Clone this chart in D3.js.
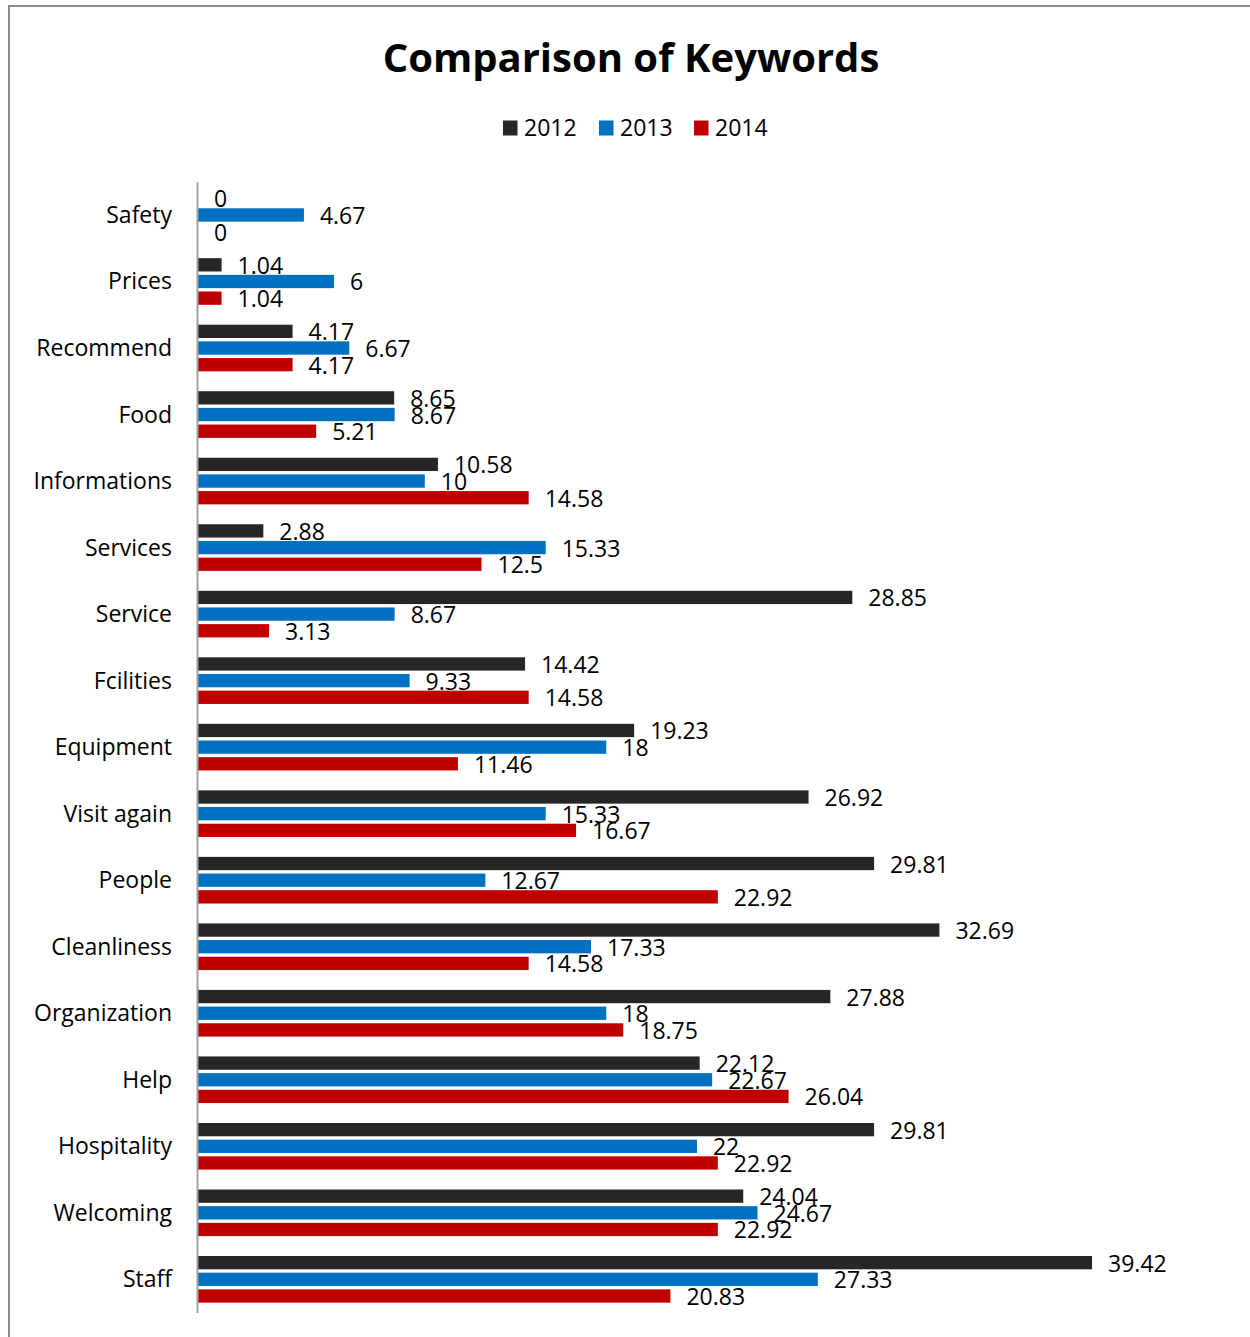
<!DOCTYPE html>
<html>
<head>
<meta charset="utf-8">
<script src="https://cdn.jsdelivr.net/npm/d3@7"></script>
<style>
  html, body { margin: 0; padding: 0; background: #fff; }
  svg { display: block; font-family: "Open Sans", sans-serif; }
</style>
</head>
<body>
<svg id="chart" width="1250" height="1337"></svg>
<script>
// Keyword share by year (%)
const categories = ["Safety", "Prices", "Recommend", "Food", "Informations", "Services",
  "Service", "Fcilities", "Equipment", "Visit again", "People", "Cleanliness",
  "Organization", "Help", "Hospitality", "Welcoming", "Staff"];
const years = ["2012", "2013", "2014"];
const values2012 = [0, 1.04, 4.17, 8.65, 10.58, 2.88, 28.85, 14.42, 19.23, 26.92, 29.81, 32.69, 27.88, 22.12, 29.81, 24.04, 39.42];
const values2013 = [4.67, 6, 6.67, 8.67, 10, 15.33, 8.67, 9.33, 18, 15.33, 12.67, 17.33, 18, 22.67, 22, 24.67, 27.33];
const values2014 = [0, 1.04, 4.17, 5.21, 14.58, 12.5, 3.13, 14.58, 11.46, 16.67, 22.92, 14.58, 18.75, 26.04, 22.92, 22.92, 20.83];
const colors = ["#262626", "#0070C0", "#C00000"];

const series = [values2012, values2013, values2014];

const svg = d3.select("#chart");

// chart frame
svg.append("rect")
  .attr("x", 9).attr("y", 6)
  .attr("width", 1260).attr("height", 1350)
  .attr("fill", "none").attr("stroke", "#8c8c8c").attr("stroke-width", 2);

// title
svg.append("text")
  .attr("x", 631).attr("y", 72)
  .attr("text-anchor", "middle")
  .attr("font-size", 40).attr("font-weight", "bold").attr("fill", "#000")
  .text("Comparison of Keywords");

// legend
const legendX = [503, 599, 694];
const legend = svg.append("g");
years.forEach((yr, i) => {
  legend.append("rect")
    .attr("x", legendX[i]).attr("y", 120.5)
    .attr("width", 14.5).attr("height", 15)
    .attr("fill", colors[i]);
  legend.append("text")
    .attr("x", legendX[i] + 21).attr("y", 136)
    .attr("font-size", 23).attr("fill", "#000")
    .text(yr);
});

// scales
const x = d3.scaleLinear().domain([0, 40]).range([198, 1105.2]);
const y = d3.scaleBand().domain(categories).range([181.7, 1312.6]).paddingInner(0).paddingOuter(0);
const step = 16.67, barH = 13.3;
const center = c => y(c) + y.bandwidth() / 2;

// bars
series.forEach((vals, si) => {
  const g = svg.append("g");
  g.selectAll("rect")
    .data(categories.map((c, i) => ({ c, v: vals[i] })))
    .join("rect")
    .attr("x", x(0))
    .attr("y", d => center(d.c) + (si - 1) * step - barH / 2)
    .attr("width", d => x(d.v) - x(0))
    .attr("height", barH)
    .attr("fill", colors[si]);
});

// value labels
series.forEach((vals, si) => {
  const g = svg.append("g");
  g.selectAll("text")
    .data(categories.map((c, i) => ({ c, v: vals[i] })))
    .join("text")
    .attr("x", d => x(d.v) + 16)
    .attr("y", d => center(d.c) + (si - 1) * step + 9)
    .attr("font-size", 23).attr("fill", "#000")
    .text(d => d.v);
});

// category axis
const axis = svg.append("g")
  .attr("transform", `translate(${x(0) - 1},0)`)
  .call(d3.axisLeft(y).tickSize(0).tickPadding(25));
axis.select(".domain").attr("stroke", "#a0a0a0").attr("stroke-width", 2);
axis.selectAll(".tick text")
  .attr("font-family", "Open Sans, sans-serif")
  .attr("font-size", 23).attr("fill", "#000")
  .attr("dy", null).attr("y", 8);
</script>
</body>
</html>
